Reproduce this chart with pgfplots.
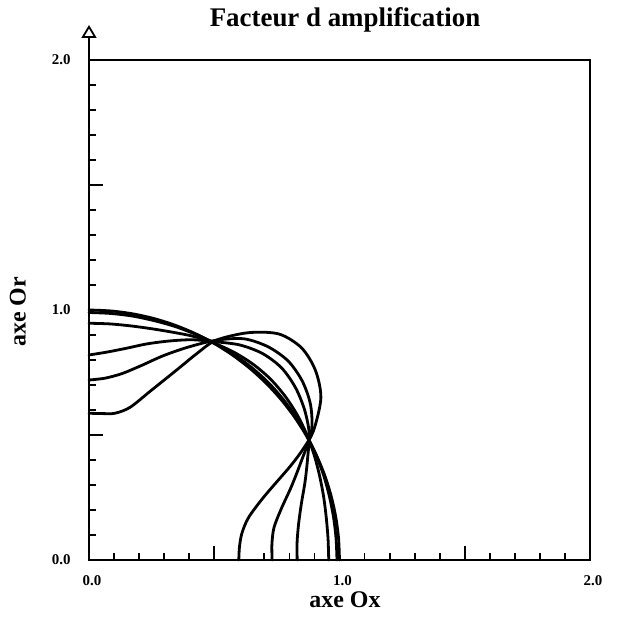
\documentclass[border=0pt]{standalone}
\usepackage{fontspec}
\setmainfont{Liberation Serif}
\usepackage{pgfplots}
\pgfplotsset{compat=1.18}
\usetikzlibrary{arrows.meta}

\begin{document}
\begin{tikzpicture}
\useasboundingbox (-89bp,-67bp) rectangle (528bp,560bp);
\begin{axis}[
    at={(0,0)}, anchor=south west,
    scale only axis, width=501bp, height=500bp,
    xmin=0, xmax=2, ymin=0, ymax=2,
    clip=false,
    axis line style={line width=2bp},
    xtick={0,0.5,...,2}, ytick={0,0.5,...,2},
    xticklabels={0.0,,1.0,,2.0}, yticklabels={0.0,,1.0,,2.0},
    minor tick num=4,
    tick align=inside, xtick pos=left, ytick pos=left,
    major tick length=14bp, minor tick length=7bp,
    every tick/.append style={black, line width=1.8bp},
    ticklabel style={font=\fontsize{15}{15}\selectfont\bfseries},
    xticklabel style={yshift=-12bp, xshift=3bp},
    yticklabel style={xshift=-15bp},
    title={Facteur d amplification},
    every axis title shift=0pt,
    title style={at={(0.511,1.08)}, anchor=center, font=\fontsize{27}{27}\selectfont\bfseries},
    xlabel={axe Ox}, ylabel={axe Or},
    xlabel style={at={(0.511,-0.08)}, anchor=center, font=\fontsize{24}{24}\selectfont\bfseries},
    ylabel style={at={(-0.142,0.496)}, anchor=center, font=\fontsize{24}{24}\selectfont\bfseries},
    curve/.style={data cs=polar, black, line width=2.8bp, smooth, mark=none, line cap=round},
]
% curves given as (angle in degrees, radius)
\addplot[curve] coordinates {
(0,1) (5,1) (10,1) (15,1) (20,1) (25,1) (30,1) (35,1) (40,1) (45,1)
(50,1) (55,1) (60,1) (65,1) (70,1) (75,1) (80,1) (85,1) (90,1)
};
\addplot[curve] coordinates {
(0,0.990) (5,0.990) (10,0.991) (15,0.993) (20,0.996) (25,0.999) (30,1.002)
(35,1.005) (40,1.007) (45,1.008) (50,1.007) (55,1.005) (60,1.002) (65,0.998)
(70,0.995) (75,0.992) (80,0.991) (85,0.990) (90,0.990)
};
\addplot[curve] coordinates {
(0,0.957) (5,0.958) (10,0.962) (15,0.970) (20,0.980) (25,0.992) (30,1.004)
(35,1.014) (40,1.021) (45,1.024) (50,1.021) (55,1.013) (60,1.001) (65,0.987)
(70,0.970) (75,0.958) (80,0.951) (85,0.948) (90,0.947)
};
\addplot[curve] coordinates {
(0,0.831) (5,0.834) (10,0.850) (15,0.878) (20,0.918) (25,0.963) (30,1.015)
(35,1.050) (40,1.075) (45,1.087) (50,1.078) (55,1.050) (60,1.008) (65,0.972)
(70,0.932) (75,0.895) (80,0.860) (85,0.835) (90,0.820)
};
\addplot[curve] coordinates {
(0,0.731) (5,0.733) (10,0.750) (15,0.795) (20,0.860) (25,0.935) (30,1.025)
(35,1.080) (40,1.112) (45,1.125) (50,1.113) (55,1.080) (60,1.015) (65,0.940)
(70,0.870) (75,0.805) (80,0.757) (85,0.730) (90,0.720)
};
\addplot[curve] coordinates {
(0,0.598) (5,0.603) (10,0.620) (15,0.660) (20,0.745) (25,0.886) (27.5,0.965)
(30,1.035) (35,1.130) (40,1.180) (45,1.200) (50,1.180) (55,1.110) (60,1.015)
(62.5,0.930) (65,0.845) (70,0.720) (75,0.632) (80,0.596) (85,0.588) (90,0.587)
};
\draw[line width=2bp, -{Triangle[open, length=13bp, width=15bp, line width=1.8bp]}]
    (axis cs:0,2) -- (axis cs:0,2.14);
\end{axis}
\end{tikzpicture}
\end{document}
